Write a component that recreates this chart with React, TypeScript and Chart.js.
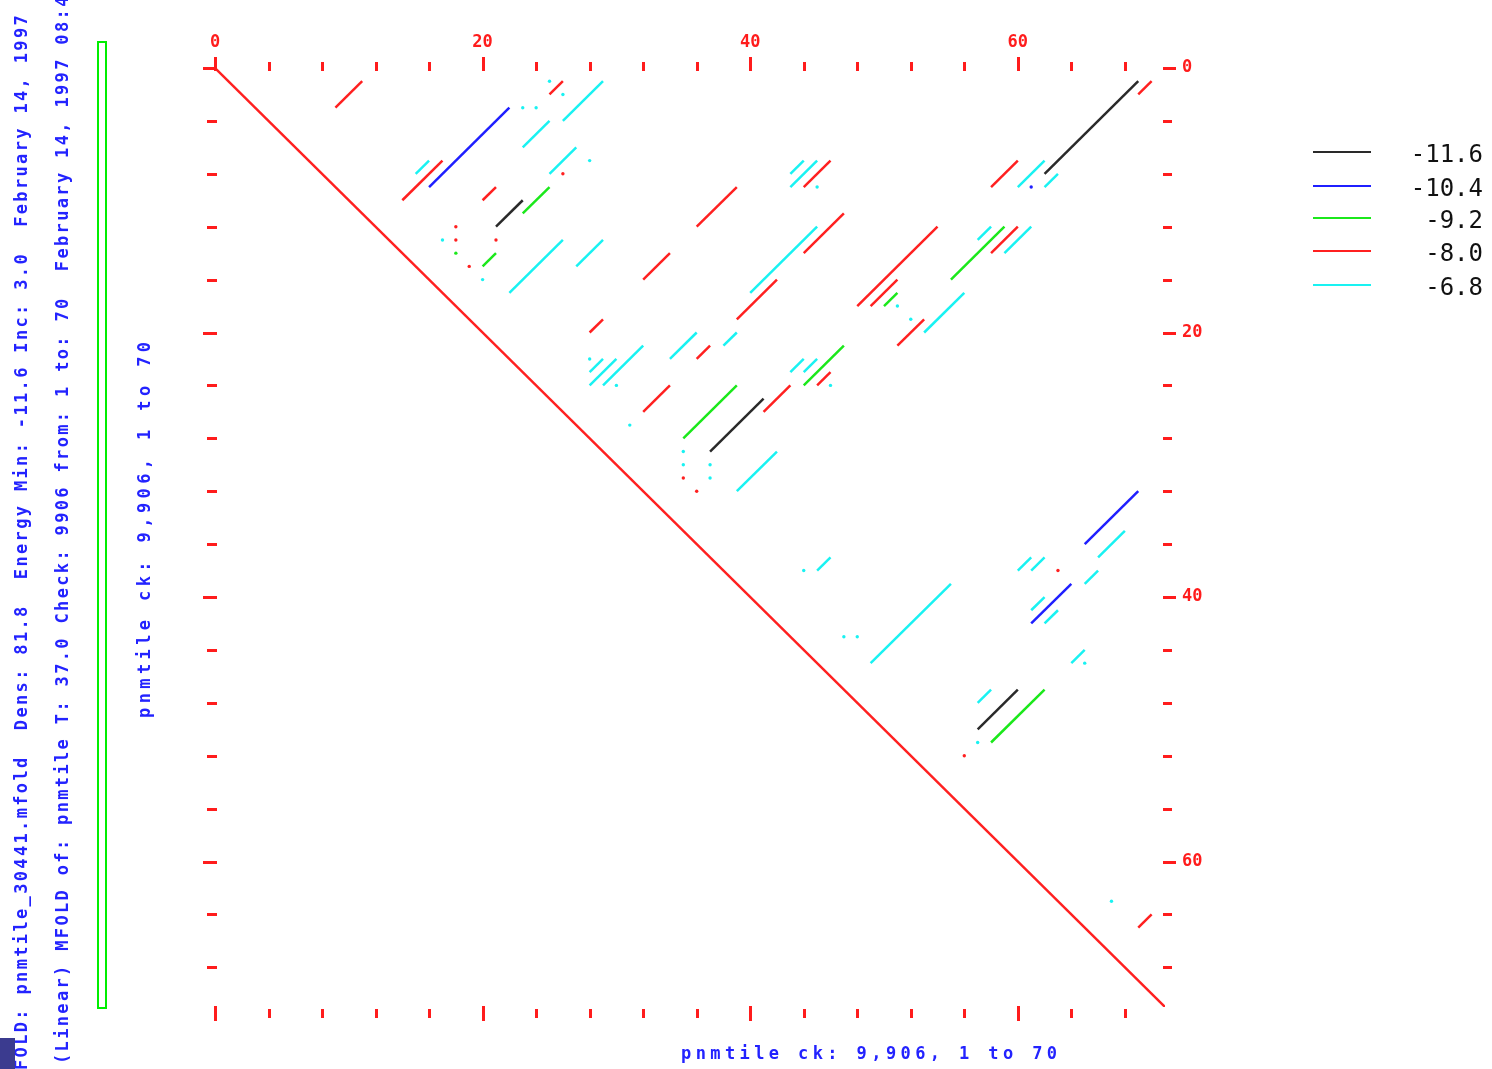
import React, { useEffect, useRef } from "react";
import { Chart, registerables } from "chart.js";

Chart.register(...registerables);

// ---------- axis values ----------
const AXIS_MIN = 0;
const AXIS_MAX = 71;
const tickValues = [0, 4, 8, 12, 16, 20, 24, 28, 32, 36, 40, 44, 48, 52, 56, 60, 64, 68];
const tickLabels = [0, 20, 40, 60];

// ---------- legend ----------
const energyLabels = ["-11.6", "-10.4", "-9.2", "-8.0", "-6.8"];
const energyColors = ["#2a2a2a", "#1f1fff", "#1be81b", "#ff2020", "#19f2f2"];

// ---------- data: helices [x1, y1, x2, y2] and single dots [x, y] ----------
const diagonal = [0, 0, 71, 71];

const segsE116 = [[62, 8, 69, 1], [21, 12, 23, 10], [37, 29, 41, 25], [57, 50, 60, 47]];
const dotsE116: number[][] = [];

const segsE104 = [[16, 9, 22, 3], [65, 36, 69, 32], [61, 42, 64, 39]];
const dotsE104 = [[61, 9]];

const segsE92 = [[23, 11, 25, 9], [20, 15, 21, 14], [55, 16, 59, 12], [50, 18, 51, 17], [35, 28, 39, 24], [44, 24, 47, 21], [58, 51, 62, 47]];
const dotsE92 = [[18, 14]];

const segsE80 = [[9, 3, 11, 1], [25, 2, 26, 1], [14, 10, 17, 7], [20, 10, 21, 9], [69, 2, 70, 1], [44, 9, 46, 7], [36, 12, 39, 9], [58, 9, 60, 7], [32, 16, 34, 14], [44, 14, 47, 11], [48, 18, 54, 12], [49, 18, 51, 16], [58, 14, 60, 12], [39, 19, 42, 16], [51, 21, 53, 19], [28, 20, 29, 19], [36, 22, 37, 21], [32, 26, 34, 24], [41, 26, 43, 24], [45, 24, 46, 23], [69, 65, 70, 64]];
const dotsE80 = [[26, 8], [18, 12], [18, 13], [21, 13], [19, 15], [35, 31], [36, 32], [63, 38], [56, 52]];

const segsE68 = [[26, 4, 29, 1], [23, 6, 25, 4], [15, 8, 16, 7], [25, 8, 27, 6], [22, 17, 26, 13], [27, 15, 29, 13], [43, 8, 44, 7], [43, 9, 45, 7], [60, 9, 62, 7], [62, 9, 63, 8], [57, 13, 58, 12], [59, 14, 61, 12], [40, 17, 45, 12], [53, 20, 56, 17], [28, 23, 29, 22], [28, 24, 30, 22], [29, 24, 32, 21], [34, 22, 36, 20], [38, 21, 39, 20], [43, 23, 44, 22], [44, 23, 45, 22], [39, 32, 42, 29], [66, 37, 68, 35], [45, 38, 46, 37], [60, 38, 61, 37], [61, 38, 62, 37], [65, 39, 66, 38], [61, 41, 62, 40], [62, 42, 63, 41], [49, 45, 55, 39], [64, 45, 65, 44], [57, 48, 58, 47]];
const dotsE68 = [[25, 1], [26, 2], [23, 3], [24, 3], [28, 7], [17, 13], [20, 16], [45, 9], [51, 18], [52, 19], [28, 22], [30, 24], [31, 27], [46, 24], [35, 29], [35, 30], [37, 30], [37, 31], [44, 38], [47, 43], [48, 43], [65, 45], [57, 51], [67, 63]];

const levelSegs = [segsE116, segsE104, segsE92, segsE80, segsE68];
const levelDots = [dotsE116, dotsE104, dotsE92, dotsE80, dotsE68];

// ---------- texts ----------
const infoLine1 = "FOLD: pnmtile_30441.mfold  Dens: 81.8  Energy Min: -11.6 Inc: 3.0  February 14, 1997";
const infoLine2 = "(Linear) MFOLD of: pnmtile T: 37.0 Check: 9906 from: 1 to: 70  February 14, 1997 08:4";
const axisTitle = "pnmtile ck: 9,906, 1 to 70";

const TICK_RED = "#ff1c1c";
const DIAG_RED = "#ff2020";
const TEXT_BLUE = "#2323ff";
const MONO = "'DejaVu Sans Mono', monospace";

const tickMarksPlugin = {
  id: "tickMarks",
  afterDraw(chart: any) {
    const { ctx, chartArea: a, scales } = chart;
    const xs = scales.x;
    const ys = scales.y;
    ctx.save();
    ctx.strokeStyle = TICK_RED;
    ctx.lineWidth = 3;
    const line = (x1: number, y1: number, x2: number, y2: number) => {
      ctx.beginPath();
      ctx.moveTo(x1, y1);
      ctx.lineTo(x2, y2);
      ctx.stroke();
    };
    for (const v of tickValues) {
      const major = tickLabels.includes(v);
      const px = Math.round(xs.getPixelForValue(v)) + 0.5;
      const py = Math.round(ys.getPixelForValue(v)) + 0.5;
      line(px, a.top - (major ? 11 : 6), px, a.top + 3);
      line(px, a.bottom + (major ? -1 : 2), px, a.bottom + (major ? 14 : 11));
      line(a.left - (major ? 12 : 8), py, a.left + 2, py);
      line(a.right - 2, py, a.right + (major ? 11 : 7), py);
    }
    ctx.restore();
  },
};

function buildDatasets() {
  const ds: any[] = [];
  energyLabels.forEach((lbl, i) => {
    const color = energyColors[i];
    levelSegs[i].forEach((s) => {
      ds.push({
        label: lbl,
        data: [{ x: s[0], y: s[1] }, { x: s[2], y: s[3] }],
        showLine: true,
        borderColor: color,
        borderWidth: 2.5,
        pointRadius: 0,
        xAxisID: "x",
        yAxisID: "y",
      });
    });
    if (levelDots[i].length) {
      ds.push({
        label: lbl,
        data: levelDots[i].map((d) => ({ x: d[0], y: d[1] })),
        showLine: false,
        pointRadius: 1.7,
        pointBorderWidth: 0,
        pointBackgroundColor: color,
        xAxisID: "x",
        yAxisID: "y",
      });
    }
  });
  ds.push({
    label: "diagonal",
    data: [{ x: diagonal[0], y: diagonal[1] }, { x: diagonal[2], y: diagonal[3] }],
    showLine: true,
    borderColor: DIAG_RED,
    borderWidth: 2.4,
    pointRadius: 0,
    xAxisID: "x",
    yAxisID: "y",
  });
  return ds;
}

const fixedTicks = (scale: any) => {
  scale.ticks = tickValues.map((v) => ({ value: v }));
};
const labelCb = (v: any) => (tickLabels.includes(Number(v)) ? String(v) : "");

function VText(props: { x: number; y: number; size: number; spacing: number; color: string; text: string; bold?: boolean }) {
  return (
    <div
      style={{
        position: "absolute",
        left: props.x,
        top: props.y,
        transformOrigin: "0 0",
        transform: "rotate(-90deg)",
        whiteSpace: "pre",
        fontFamily: MONO,
        fontSize: props.size,
        fontWeight: props.bold ? "bold" : "normal",
        lineHeight: `${props.size}px`,
        letterSpacing: props.spacing,
        color: props.color,
      }}
    >
      {props.text}
    </div>
  );
}

const legendLineY = [152, 186, 218, 251, 285];

export default function App() {
  const ref = useRef<HTMLCanvasElement>(null);
  useEffect(() => {
    const chart = new Chart(ref.current as HTMLCanvasElement, {
      type: "scatter",
      data: { datasets: buildDatasets() },
      options: {
        responsive: false,
        animation: false,
        events: [],
        layout: { padding: 0 },
        plugins: { legend: { display: false }, tooltip: { enabled: false }, title: { display: false } },
        scales: {
          x: {
            type: "linear",
            position: "top",
            min: AXIS_MIN,
            max: AXIS_MAX,
            afterBuildTicks: fixedTicks,
            afterFit: (s: any) => { s.height = 68; },
            grid: { display: false, drawTicks: false },
            border: { display: false },
            ticks: {
              autoSkip: false,
              maxRotation: 0,
              padding: 15,
              color: TICK_RED,
              font: { family: MONO, size: 17, weight: "bold" },
              callback: labelCb,
            },
          },
          x2: {
            type: "linear",
            position: "bottom",
            min: AXIS_MIN,
            max: AXIS_MAX,
            afterBuildTicks: fixedTicks,
            afterFit: (s: any) => { s.height = 62; },
            grid: { display: false, drawTicks: false },
            border: { display: false },
            ticks: { display: false },
          },
          y: {
            type: "linear",
            position: "left",
            reverse: true,
            min: AXIS_MIN,
            max: AXIS_MAX,
            afterBuildTicks: fixedTicks,
            afterFit: (s: any) => { s.width = 215; },
            grid: { display: false, drawTicks: false },
            border: { display: false },
            ticks: { display: false },
          },
          y2: {
            type: "linear",
            position: "right",
            reverse: true,
            min: AXIS_MIN,
            max: AXIS_MAX,
            afterBuildTicks: fixedTicks,
            afterFit: (s: any) => { s.width = 1492 - 1165; },
            grid: { display: false, drawTicks: false },
            border: { display: false },
            ticks: {
              autoSkip: false,
              padding: 17,
              color: TICK_RED,
              font: { family: MONO, size: 17, weight: "bold" },
              callback: labelCb,
            },
          },
        },
      },
      plugins: [tickMarksPlugin],
    } as any);
    return () => chart.destroy();
  }, []);

  return (
    <div style={{ position: "fixed", left: 0, top: 0, width: 1492, height: 1069, overflow: "hidden", background: "#ffffff" }}>
      <canvas ref={ref} width={1492} height={1069} style={{ position: "absolute", left: 0, top: 0, width: 1492, height: 1069 }} />

      {/* header information, rotated */}
      <VText x={13} y={1070} size={17} spacing={2.35} color={TEXT_BLUE} text={infoLine1} bold />
      <VText x={54} y={1064} size={17} spacing={2.35} color={TEXT_BLUE} text={infoLine2} bold />
      <div style={{ position: "absolute", left: 0, top: 1038, width: 15, height: 31, background: "#3b3b8f" }} />

      {/* green frame */}
      <div style={{ position: "absolute", left: 97, top: 41, width: 10, height: 968, border: "2px solid #00ee00", boxSizing: "border-box" }} />

      {/* axis titles */}
      <VText x={136} y={718} size={17} spacing={4.4} color={TEXT_BLUE} text={axisTitle} bold />
      <div style={{ position: "absolute", left: 681, top: 1045, whiteSpace: "pre", fontFamily: MONO, fontSize: 17, fontWeight: "bold", lineHeight: "17px", letterSpacing: 4.4, color: TEXT_BLUE }}>
        {axisTitle}
      </div>

      {/* legend */}
      {energyLabels.map((lbl, i) => (
        <React.Fragment key={lbl}>
          <div style={{ position: "absolute", left: 1313, top: legendLineY[i] - 1, width: 58, height: 2, background: energyColors[i] }} />
          <div style={{ position: "absolute", right: 9, top: legendLineY[i] - 10, fontFamily: MONO, fontSize: 24, lineHeight: "24px", color: "#111", whiteSpace: "pre" }}>
            {lbl}
          </div>
        </React.Fragment>
      ))}
    </div>
  );
}
